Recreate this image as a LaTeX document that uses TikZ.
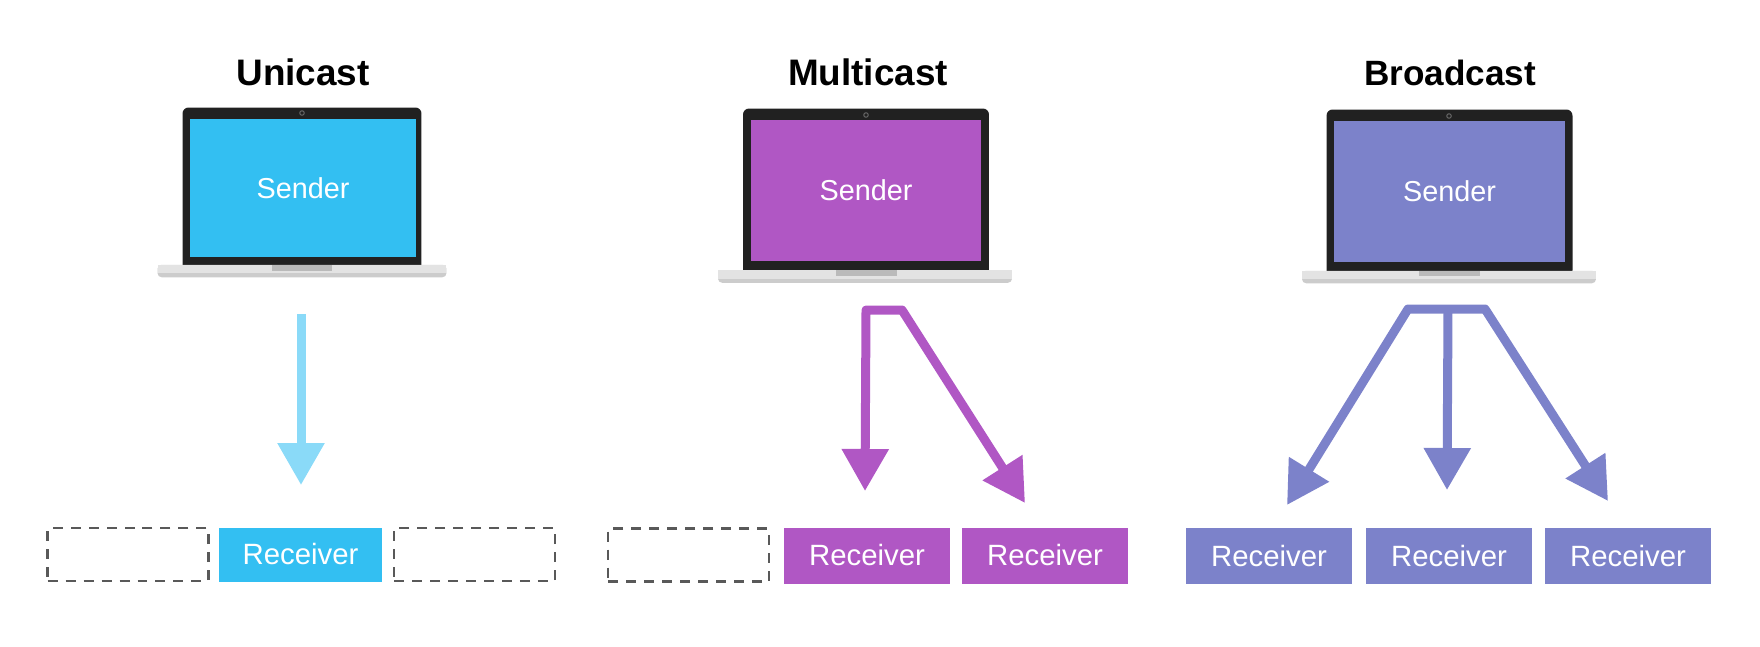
\documentclass[tikz,border=0pt]{standalone}
\usepackage{fontspec}
\setmainfont{Liberation Sans}
\usepackage{xcolor}
\usetikzlibrary{arrows.meta}

\definecolor{uniblue}{HTML}{33BFF2}
\definecolor{unilight}{HTML}{8ADAF8}
\definecolor{multipurple}{HTML}{B057C4}
\definecolor{broadblue}{HTML}{7C82CA}

\begin{document}
\begin{tikzpicture}[
    x=0.02cm, y=-0.02cm,
    title/.style = {anchor=base, inner sep=0pt, font=\fontsize{21}{25}\selectfont\bfseries},
    bezel/.style = {fill=black!87, rounded corners=0.12cm, inner sep=0pt, minimum width=4.92cm, minimum height=3.34cm},
    screen/.style = {text=white, inner sep=0pt, minimum width=4.62cm, minimum height=2.84cm, font=\fontsize{16.4}{20}\selectfont},
    baselow/.style = {fill=black!20, rounded corners=0.08cm, inner sep=0pt, minimum width=5.88cm, minimum height=0.25cm},
    basetop/.style = {fill=black!11, inner sep=0pt, minimum width=5.88cm, minimum height=0.17cm},
    notch/.style = {fill=black!27, inner sep=0pt, minimum width=1.22cm, minimum height=0.11cm},
    camera/.style = {circle, draw=black!60, fill=black!87, line width=0.02cm, inner sep=0pt, minimum size=0.09cm},
    receiver/.style = {text=white, inner sep=0pt, minimum width=3.32cm, minimum height=1.12cm, font=\fontsize{16.7}{20}\selectfont},
    empty/.style = {draw=black!65, line width=0.055cm, dash pattern=on 0.2cm off 0.16cm, inner sep=0pt, minimum width=3.22cm, minimum height=1.06cm},
    flow/.style = {line width=0.18cm, line join=round, {Triangle[length=0.84cm,width=0.9cm]}-{Triangle[length=0.84cm,width=0.9cm]}},
    flowend/.style = {line width=0.18cm, -{Triangle[length=0.84cm,width=0.9cm]}}
]
\useasboundingbox (0,0) rectangle (1760,646);

% Unicast
\node (UT) [title] at (303,85) {Unicast};
\node (UB) [bezel, minimum width=4.78cm] at (302,191) {};
\node (US) [screen, fill=uniblue, minimum width=4.52cm, minimum height=2.78cm] at (303,188) {Sender};
\node (UL) [baselow, minimum width=5.78cm] at (302,271) {};
\node (UK) [basetop, minimum width=5.78cm] at (302,269) {};
\node (UN) [notch] at (302,268) {};
\node (UC) [camera] at (302,113) {};
\node (UD1) [empty] at (128,554.5) {};
\node (UR) [receiver, fill=uniblue, minimum width=3.26cm, minimum height=1.08cm] at (300.5,554.5) {Receiver};
\node (UD2) [empty] at (474.5,554.5) {};
\coordinate (US1) at (301,314);
\coordinate (UA) at (301,485);
\draw [flowend, unilight] (US1) -- (UA);

% Multicast
\node (MT) [title] at (868,85) {Multicast};
\node (MB) [bezel] at (866,192) {};
\node (MS) [screen, fill=multipurple] at (866,190.5) {Sender};
\node (ML) [baselow] at (865,276.5) {};
\node (MK) [basetop] at (865,274.5) {};
\node (MN) [notch] at (866,273) {};
\node (MC) [camera] at (866,115) {};
\node (MD) [empty] at (688.5,555) {};
\node (MR1) [receiver, fill=multipurple] at (867,555.5) {Receiver};
\node (MR2) [receiver, fill=multipurple] at (1045,555.5) {Receiver};
\coordinate (MA1) at (865,491);
\coordinate (MJ1) at (866,310);
\coordinate (MJ2) at (902,310);
\coordinate (MA2) at (1025,503);
\draw [flow, multipurple] (MA1) -- (MJ1) -- (MJ2) -- (MA2);

% Broadcast
\node (BT) [title, font=\fontsize{20}{25}\selectfont\bfseries] at (1450,85) {Broadcast};
\node (BB) [bezel] at (1449.5,193) {};
\node (BS) [screen, fill=broadblue] at (1449.5,191.5) {Sender};
\node (BL) [baselow] at (1449,277) {};
\node (BK) [basetop] at (1449,275) {};
\node (BN) [notch] at (1449,273.5) {};
\node (BC) [camera] at (1449,116) {};
\node (BR1) [receiver, fill=broadblue] at (1269,556) {Receiver};
\node (BR2) [receiver, fill=broadblue] at (1449,556) {Receiver};
\node (BR3) [receiver, fill=broadblue] at (1628,556) {Receiver};
\coordinate (BA1) at (1287,505);
\coordinate (BJ1) at (1408,309);
\coordinate (BJ2) at (1485,309);
\coordinate (BA3) at (1608,501);
\coordinate (BJ3) at (1448,309);
\coordinate (BA2) at (1447,490);
\draw [flow, broadblue] (BA1) -- (BJ1) -- (BJ2) -- (BA3);
\draw [flowend, broadblue] (BJ3) -- (BA2);

\end{tikzpicture}
\end{document}
